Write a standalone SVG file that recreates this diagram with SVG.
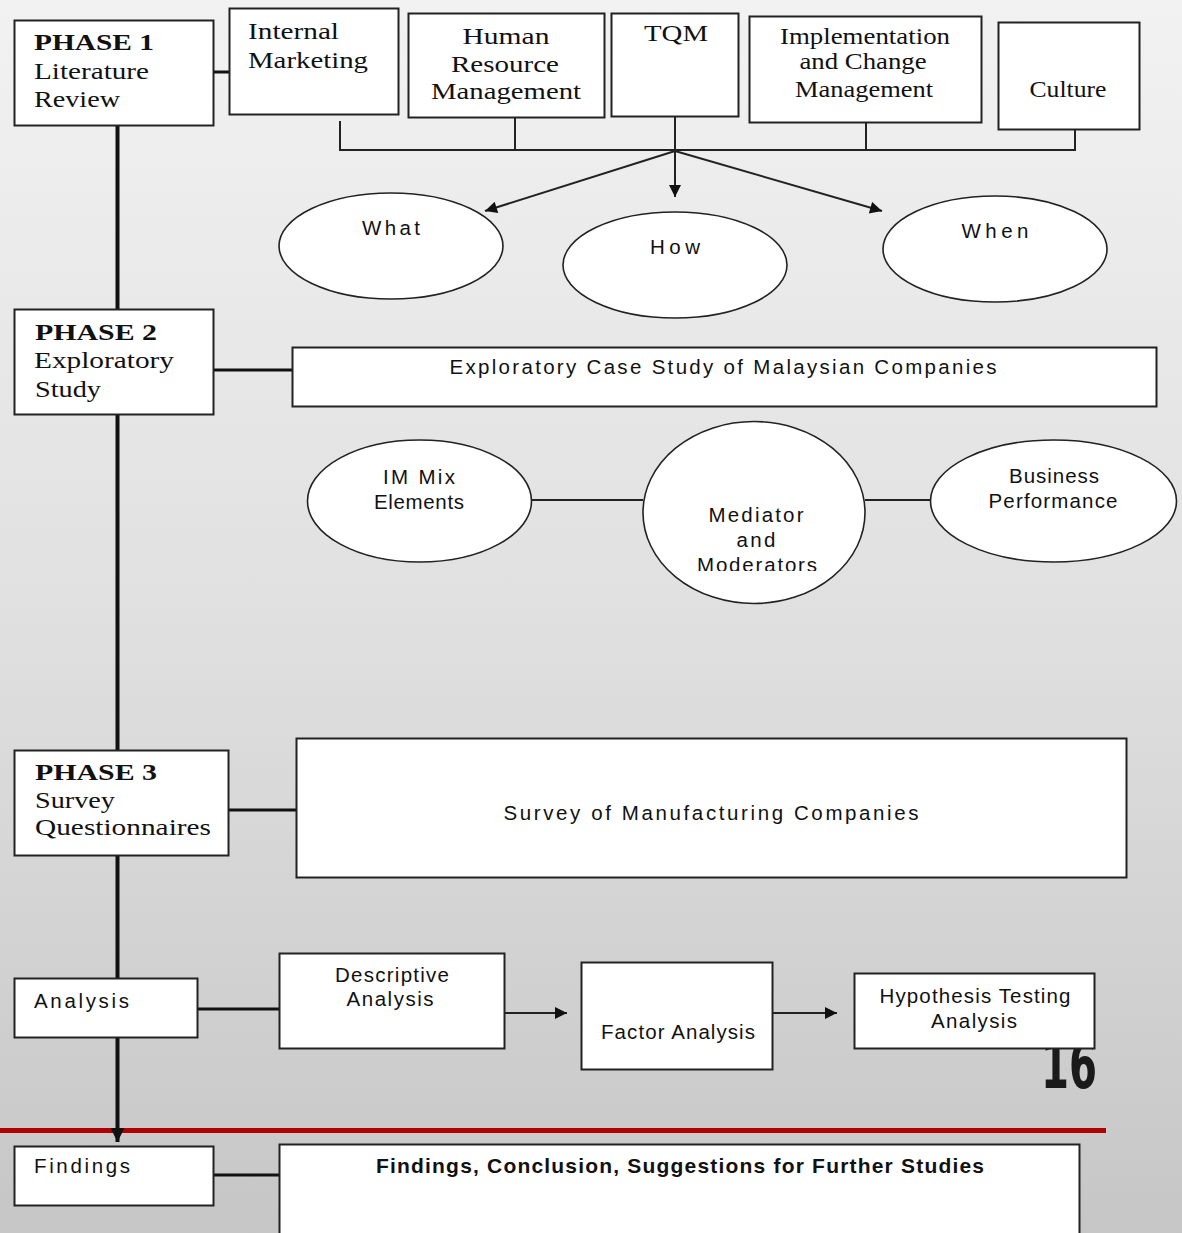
<svg xmlns="http://www.w3.org/2000/svg" width="1182" height="1233" viewBox="0 0 1182 1233">
<defs>
<linearGradient id="bg" x1="0" y1="0" x2="0" y2="1">
<stop offset="0" stop-color="#f2f2f2"/>
<stop offset="0.5" stop-color="#e0e0e0"/>
<stop offset="1" stop-color="#c6c6c6"/>
</linearGradient>
<marker id="ah" viewBox="0 0 10 10" refX="10" refY="5" markerWidth="14" markerHeight="12" markerUnits="userSpaceOnUse" orient="auto">
<path d="M0,0 L10,5 L0,10 z" fill="#111"/>
</marker>
<marker id="ahb" viewBox="0 0 10 10" refX="10" refY="5" markerWidth="14" markerHeight="14" markerUnits="userSpaceOnUse" orient="auto">
<path d="M0,0 L10,5 L0,10 z" fill="#111"/>
</marker>
<clipPath id="medclip"><rect x="640" y="420" width="230" height="151"/></clipPath>
</defs>
<style>
.box{fill:#fff;stroke:#222;stroke-width:2}
.ell{fill:#fff;stroke:#222;stroke-width:1.6}
.ser{font-family:"Liberation Serif",serif;font-size:23px;fill:#111}
.serb{font-family:"Liberation Serif",serif;font-size:23px;font-weight:bold;fill:#111}
.sans{font-family:"Liberation Sans",sans-serif;font-size:20.5px;fill:#111}
.sansb{font-family:"Liberation Sans",sans-serif;font-size:21px;font-weight:bold;fill:#111}
.mid{text-anchor:middle}
.ln{stroke:#222;stroke-width:2;fill:none}
.thick{stroke:#111;stroke-width:4;fill:none}
.med{stroke:#111;stroke-width:3;fill:none}
</style>
<rect x="0" y="0" width="1182" height="1233" fill="url(#bg)"/>
<text x="1041" y="1088" font-family="'Liberation Sans Narrow','DejaVu Sans Condensed',sans-serif" font-size="66" font-weight="bold" fill="#1a1a1a" textLength="56" lengthAdjust="spacingAndGlyphs">16</text>
<line x1="0" y1="1130.5" x2="1106" y2="1130.5" stroke="#b00000" stroke-width="5"/>

<g id="connectors">
<line class="thick" x1="117.5" y1="125" x2="117.5" y2="309"/>
<line class="thick" x1="117.5" y1="415" x2="117.5" y2="750"/>
<line class="thick" x1="117.5" y1="856" x2="117.5" y2="978"/>
<line class="thick" x1="117.5" y1="1038" x2="117.5" y2="1142" marker-end="url(#ahb)"/>
<line class="med" x1="214" y1="72" x2="229" y2="72"/>
<line class="med" x1="214" y1="370" x2="292" y2="370"/>
<line class="med" x1="229" y1="810" x2="296" y2="810"/>
<line class="med" x1="197" y1="1009" x2="279" y2="1009"/>
<line class="med" x1="214" y1="1175" x2="279" y2="1175"/>
<path class="ln" d="M340,121 V150 H1075 V130 M515,118 V150 M866,122 V150"/>
<line class="ln" x1="675" y1="117" x2="675" y2="197" marker-end="url(#ah)"/>
<line class="ln" x1="675" y1="151" x2="485" y2="211" marker-end="url(#ah)"/>
<line class="ln" x1="675" y1="151" x2="882" y2="211" marker-end="url(#ah)"/>
<line class="ln" x1="531" y1="500" x2="643" y2="500"/>
<line class="ln" x1="865" y1="500" x2="931" y2="500"/>
<line class="ln" x1="504" y1="1013" x2="567" y2="1013" marker-end="url(#ah)"/>
<line class="ln" x1="773" y1="1013" x2="837" y2="1013" marker-end="url(#ah)"/>
</g>

<g id="phase1">
<rect class="box" x="14.5" y="20.5" width="199" height="105"/>
<text class="serb" x="34" y="50" textLength="120" lengthAdjust="spacingAndGlyphs">PHASE 1</text>
<text class="ser" x="34" y="79" textLength="115" lengthAdjust="spacingAndGlyphs">Literature</text>
<text class="ser" x="34" y="107" textLength="86" lengthAdjust="spacingAndGlyphs">Review</text>
</g>
<g id="internal-marketing">
<rect class="box" x="229.5" y="8.5" width="169" height="106"/>
<text class="ser" x="248" y="39" textLength="91" lengthAdjust="spacingAndGlyphs">Internal</text>
<text class="ser" x="248" y="68" textLength="120" lengthAdjust="spacingAndGlyphs">Marketing</text>
</g>
<g id="hrm">
<rect class="box" x="408.5" y="13.5" width="196" height="104"/>
<text class="ser mid" x="506" y="44" textLength="87" lengthAdjust="spacingAndGlyphs">Human</text>
<text class="ser mid" x="505" y="72" textLength="108" lengthAdjust="spacingAndGlyphs">Resource</text>
<text class="ser mid" x="506" y="99" textLength="150" lengthAdjust="spacingAndGlyphs">Management</text>
</g>
<g id="tqm">
<rect class="box" x="611.5" y="13.5" width="127" height="103"/>
<text class="ser mid" x="676" y="41" textLength="64" lengthAdjust="spacingAndGlyphs">TQM</text>
</g>
<g id="implementation">
<rect class="box" x="749.5" y="16.5" width="232" height="106"/>
<text class="ser mid" x="865" y="44" textLength="170" lengthAdjust="spacingAndGlyphs">Implementation</text>
<text class="ser mid" x="863" y="69" textLength="127" lengthAdjust="spacingAndGlyphs">and Change</text>
<text class="ser mid" x="864" y="97" textLength="138" lengthAdjust="spacingAndGlyphs">Management</text>
</g>
<g id="culture">
<rect class="box" x="998.5" y="22.5" width="141" height="107"/>
<text class="ser mid" x="1068" y="97" textLength="77" lengthAdjust="spacingAndGlyphs">Culture</text>
</g>
<g id="what">
<ellipse class="ell" cx="391" cy="246" rx="112" ry="53"/>
<text class="sans mid" x="391" y="235" textLength="58">What</text>
</g>
<g id="how">
<ellipse class="ell" cx="675" cy="265" rx="112" ry="53"/>
<text class="sans mid" x="675" y="254" textLength="50">How</text>
</g>
<g id="when">
<ellipse class="ell" cx="995" cy="249" rx="112" ry="53"/>
<text class="sans mid" x="995" y="238" textLength="67">When</text>
</g>

<g id="phase2">
<rect class="box" x="14.5" y="309.5" width="199" height="105"/>
<text class="serb" x="35" y="340" textLength="122" lengthAdjust="spacingAndGlyphs">PHASE 2</text>
<text class="ser" x="34" y="368" textLength="140" lengthAdjust="spacingAndGlyphs">Exploratory</text>
<text class="ser" x="35" y="397" textLength="66" lengthAdjust="spacingAndGlyphs">Study</text>
</g>
<g id="exploratory-case">
<rect class="box" x="292.5" y="347.5" width="864" height="59"/>
<text class="sans mid" x="723" y="374" textLength="547">Exploratory Case Study of Malaysian Companies</text>
</g>
<g id="im-mix">
<ellipse class="ell" cx="419.5" cy="501" rx="112" ry="61"/>
<text class="sans mid" x="419" y="484" textLength="72">IM Mix</text>
<text class="sans mid" x="419" y="509" textLength="90">Elements</text>
</g>
<g id="mediator">
<ellipse class="ell" cx="754" cy="512.5" rx="111" ry="91"/>
<text class="sans mid" x="756" y="522" textLength="95">Mediator</text>
<text class="sans mid" x="756" y="547" textLength="39">and</text>
<text class="sans mid" x="757" y="572" textLength="120" clip-path="url(#medclip)">Moderators</text>
</g>
<g id="business">
<ellipse class="ell" cx="1053.5" cy="501" rx="123" ry="61"/>
<text class="sans mid" x="1054" y="483" textLength="90">Business</text>
<text class="sans mid" x="1053" y="508" textLength="129">Performance</text>
</g>

<g id="phase3">
<rect class="box" x="14.5" y="750.5" width="214" height="105"/>
<text class="serb" x="35" y="780" textLength="122" lengthAdjust="spacingAndGlyphs">PHASE 3</text>
<text class="ser" x="35" y="808" textLength="80" lengthAdjust="spacingAndGlyphs">Survey</text>
<text class="ser" x="35" y="835" textLength="176" lengthAdjust="spacingAndGlyphs">Questionnaires</text>
</g>
<g id="survey">
<rect class="box" x="296.5" y="738.5" width="830" height="139"/>
<text class="sans mid" x="711" y="820" textLength="415">Survey of Manufacturing Companies</text>
</g>

<g id="analysis">
<rect class="box" x="14.5" y="978.5" width="183" height="59"/>
<text class="sans" x="34" y="1008" textLength="95">Analysis</text>
</g>
<g id="descriptive">
<rect class="box" x="279.5" y="953.5" width="225" height="95"/>
<text class="sans mid" x="392" y="982" textLength="114">Descriptive</text>
<text class="sans mid" x="390" y="1006" textLength="87">Analysis</text>
</g>
<g id="factor">
<rect class="box" x="581.5" y="962.5" width="191" height="107"/>
<text class="sans mid" x="678" y="1039" textLength="154">Factor Analysis</text>
</g>
<g id="hypothesis">
<rect class="box" x="854.5" y="973.5" width="240" height="75"/>
<text class="sans mid" x="975" y="1003" textLength="191">Hypothesis Testing</text>
<text class="sans mid" x="974" y="1028" textLength="86">Analysis</text>
</g>

<g id="findings">
<rect class="box" x="14.5" y="1146.5" width="199" height="59"/>
<text class="sans" x="34" y="1173" textLength="96">Findings</text>
</g>
<g id="findings-conclusion">
<rect class="box" x="279.5" y="1144.5" width="800" height="100"/>
<text class="sansb mid" x="680" y="1173" textLength="608">Findings, Conclusion, Suggestions for Further Studies</text>
</g>
</svg>
